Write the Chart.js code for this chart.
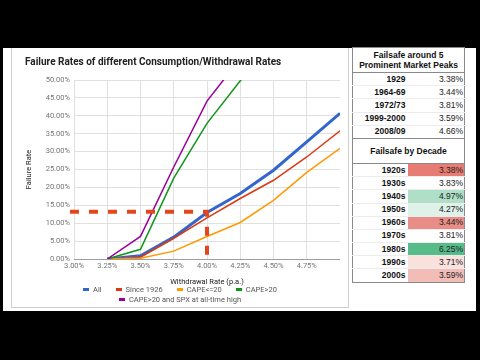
<!DOCTYPE html>
<html>
<head>
<meta charset="utf-8">
<script src="https://cdn.jsdelivr.net/npm/chart.js@4"></script>
<style>
  html, body { margin: 0; padding: 0; }
  body { width: 480px; height: 360px; background: #000; position: relative; overflow: hidden; }
  #sheet { position: absolute; left: 3px; top: 48px; width: 473px; height: 263px; background: #fff; }
  #card { position: absolute; left: 11px; top: 48px; width: 336px; height: 259px;
          border: 1px solid #cfcfcf; border-top: none; background: #fff; }
  #chart { display: block; }
  #legend { position: absolute; left: 48px; top: 237px; width: 240px; text-align: center;
            font: 7.5px Roboto, sans-serif; color: #555; line-height: 10px; }
  #legend span.item { display: inline-block; margin: 0 7px; white-space: nowrap; }
  #legend i { display: inline-block; width: 6px; height: 3px; margin-right: 4px; vertical-align: middle; position: relative; top: -1px; }
  #facts { position: absolute; left: 352px; top: 47px; width: 113px; border-collapse: collapse;
           border: 1px solid #8a8a8a; font: 8.5px "Liberation Sans", Arial, sans-serif; color: #111; background: #fff; }
  #facts td { padding: 0; height: 13.2px; line-height: 11px; border-bottom: 1px solid #ececec; box-sizing: border-box; }
  #facts td.lbl { text-align: right; font-weight: bold; padding-right: 2px; width: 55px; }
  #facts td.val { text-align: right; padding-right: 1px; color: #222; }
  #facts td.head { text-align: center; font-weight: bold; border-bottom: 1px solid #8a8a8a; }
  #facts tr.last td { border-bottom: 1px solid #8a8a8a; }
</style>
</head>
<body>
<div id="sheet"></div>
<div id="card">
  <canvas id="chart" width="336" height="259"></canvas>
  <div id="legend"></div>
</div>
<table id="facts"></table>
<script>
// withdrawal rate (x) and failure rate (%) per series
const withdrawalRates = [3.25, 3.50, 3.75, 4.00, 4.25, 4.50, 4.75, 5.00];
const failAll = [0, 0.9, 6.1, 13.0, 18.3, 24.8, 32.7, 40.7];
const failSince1926 = [0, 0.5, 5.8, 11.5, 16.9, 22.0, 28.5, 35.8];
const failCapeLow = [0, 0.2, 2.2, 6.3, 10.2, 16.4, 24.2, 30.9];
const failCapeHigh = [0, 2.7, 22.6, 37.9, 49.8, 60.0, null, null];
const failCapeHighAth = [0, 6.3, 25.7, 44.1, 56.0, null, null, null];
const seriesNames = ["All", "Since 1926", "CAPE<=20", "CAPE>20", "CAPE>20 and SPX at all-time high"];

// marked point: 4% withdrawal rate
const failsafeRate = 4.00;
const failureAtFailsafe = 13.2;

// right-hand table
const peakLabels = ["1929", "1964-69", "1972/73", "1999-2000", "2008/09"];
const peakValues = [3.38, 3.44, 3.81, 3.59, 4.66];
const decadeLabels = ["1920s", "1930s", "1940s", "1950s", "1960s", "1970s", "1980s", "1990s", "2000s"];
const decadeValues = [3.38, 3.83, 4.97, 4.27, 3.44, 3.81, 6.25, 3.71, 3.59];

const colors = ["#3366cc", "#dc3912", "#ff9900", "#109618", "#990099"];
const widths = [3, 1.5, 1.5, 1.5, 1.5];
const allSeries = [failAll, failSince1926, failCapeLow, failCapeHigh, failCapeHighAth];

const datasets = allSeries.map((vals, i) => ({
    label: seriesNames[i],
    data: withdrawalRates.map((r, j) => ({ x: r, y: vals[j] })),
    borderColor: colors[i],
    backgroundColor: colors[i],
    borderWidth: widths[i],
    pointRadius: 0,
    tension: 0,
    clip: 0,
    order: allSeries.length - i
}));

const failsafePlugin = {
    id: "failsafe",
    afterDatasetsDraw(chart) {
        const { ctx, scales: { x, y } } = chart;
        const px = x.getPixelForValue(failsafeRate);
        const py = y.getPixelForValue(failureAtFailsafe);
        ctx.save();
        ctx.strokeStyle = "#e4461c";
        ctx.lineWidth = 4;
        ctx.setLineDash([9, 10]);
        ctx.beginPath();
        ctx.moveTo(x.left - 4, py);
        ctx.lineTo(px, py);
        ctx.lineTo(px, y.bottom + 3);
        ctx.stroke();
        ctx.restore();
    }
};

const tickFont = { family: "Roboto", size: 7.5 };

const chart = new Chart(document.getElementById("chart"), {
    type: "line",
    data: { datasets: datasets },
    options: {
        responsive: false,
        animation: false,
        devicePixelRatio: 1,
        layout: { padding: { left: 13, right: 8, top: 0, bottom: 20 } },
        plugins: {
            legend: { display: false },
            tooltip: { enabled: false },
            title: {
                display: true,
                text: "Failure Rates of different Consumption/Withdrawal Rates",
                align: "start",
                color: "#222",
                font: { family: "Roboto", size: 10, weight: "bold" },
                padding: { top: 8, bottom: 12 }
            }
        },
        scales: {
            x: {
                type: "linear",
                min: 3,
                max: 5,
                border: { display: false },
                grid: {
                    drawTicks: false,
                    color: c => (c.tick && c.tick.value === 5) ? "rgba(0,0,0,0)" : "#e0e0e0"
                },
                ticks: {
                    stepSize: 0.25,
                    autoSkip: false,
                    maxRotation: 0,
                    padding: 3,
                    color: "#757575",
                    font: tickFont,
                    callback: v => v === 5 ? "" : v.toFixed(2) + "%"
                },
                title: {
                    display: true,
                    text: "Withdrawal Rate (p.a.)",
                    color: "#222",
                    font: { family: "Roboto", size: 7.5 },
                    padding: { top: 4, bottom: 0 }
                }
            },
            y: {
                min: 0,
                max: 50,
                border: { display: false },
                afterFit: s => { s.width = 49; },
                grid: {
                    drawTicks: false,
                    color: c => (c.tick && c.tick.value === 0) ? "#9e9e9e" : "#e0e0e0"
                },
                ticks: {
                    stepSize: 5,
                    padding: 4,
                    color: "#757575",
                    font: tickFont,
                    callback: v => v.toFixed(2) + "%"
                },
                title: {
                    display: true,
                    text: "Failure Rate",
                    color: "#222",
                    font: { family: "Roboto", size: 7.5 },
                    padding: { top: 0, bottom: 0 }
                }
            }
        }
    },
    plugins: [failsafePlugin]
});

// html legend from the chart's own label items, in dataset order
const legendBox = document.getElementById("legend");
Chart.defaults.plugins.legend.labels.generateLabels(chart)
    .sort((a, b) => a.datasetIndex - b.datasetIndex)
    .forEach(item => {
        const span = document.createElement("span");
        span.className = "item";
        const mark = document.createElement("i");
        mark.style.background = item.strokeStyle;
        span.appendChild(mark);
        span.appendChild(document.createTextNode(item.text));
        legendBox.appendChild(span);
    });

// conditional colour scale like the sheet: red (min) - white (median) - green (max)
function scaleColor(v, values) {
    const sorted = values.slice().sort((a, b) => a - b);
    const lo = sorted[0], hi = sorted[sorted.length - 1];
    const mid = sorted[Math.floor(sorted.length / 2)];
    let from, t;
    if (v <= mid) { from = [230, 124, 115]; t = (mid - v) / (mid - lo); }
    else { from = [87, 187, 138]; t = (v - mid) / (hi - mid); }
    const c = from.map(k => Math.round(255 + (k - 255) * t));
    return `rgb(${c[0]},${c[1]},${c[2]})`;
}

const table = document.getElementById("facts");
function addHead(lines, height) {
    const tr = table.insertRow();
    const td = tr.insertCell();
    td.colSpan = 2;
    td.className = "head";
    td.style.height = height + "px";
    td.style.lineHeight = "10px";
    td.innerHTML = lines.join("<br>");
}
function addRows(labels, values, colored) {
    labels.forEach((lab, i) => {
        const tr = table.insertRow();
        if (i === labels.length - 1) tr.className = "last";
        const a = tr.insertCell();
        a.className = "lbl";
        a.textContent = lab;
        const b = tr.insertCell();
        b.className = "val";
        b.textContent = values[i].toFixed(2) + "%";
        if (colored) b.style.background = scaleColor(values[i], values);
    });
}
addHead(["Failsafe around 5", "Prominent Market Peaks"], 25);
addRows(peakLabels, peakValues, false);
addHead(["Failsafe by Decade"], 25);
addRows(decadeLabels, decadeValues, true);
</script>
</body>
</html>
